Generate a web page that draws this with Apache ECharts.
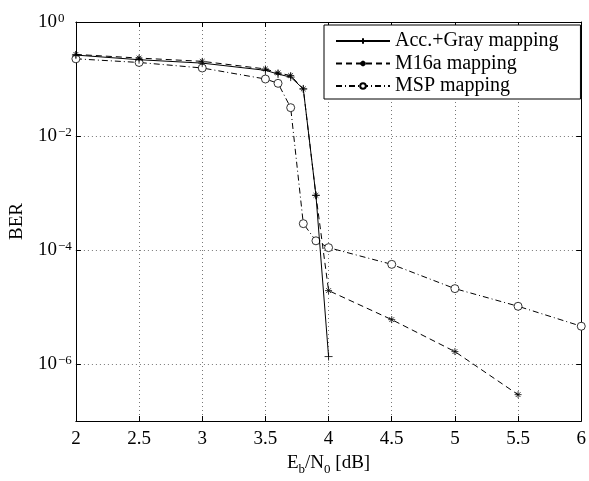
<!DOCTYPE html>
<html>
<head>
<meta charset="utf-8">
<script src="https://cdn.jsdelivr.net/npm/echarts@6/dist/echarts.min.js"></script>
<style>html,body{margin:0;padding:0;background:#fff;}#c{width:589px;height:481px;}</style>
</head>
<body>
<div id="c"></div>
<script>
// Eb/N0 [dB]
const xAcc = [2, 2.5, 3, 3.5, 3.6, 3.7, 3.8, 3.9, 4];
const berAcc = [0.263, 0.218, 0.19, 0.142, 0.122, 0.108, 0.067, 9.1e-4, 1.35e-6];
const xM16a = [2, 2.5, 3, 3.5, 3.6, 3.7, 3.8, 3.9, 4, 4.5, 5, 5.5];
const berM16a = [0.27, 0.233, 0.204, 0.150, 0.128, 0.115, 0.067, 9.1e-4, 1.94e-5, 6.0e-6, 1.65e-6, 2.9e-7];
const xMSP = [2, 2.5, 3, 3.5, 3.6, 3.7, 3.8, 3.9, 4, 4.5, 5, 5.5, 6];
const berMSP = [0.226, 0.195, 0.156, 0.100, 0.084, 0.0314, 2.9e-4, 1.45e-4, 1.1e-4, 5.6e-5, 2.1e-5, 1.03e-5, 4.6e-6];
const seriesNames = ['Acc.+Gray mapping', 'M16a mapping', 'MSP mapping'];
const yExpMin = -7, yExpMax = 0;

const FONT = 'Liberation Serif';
const toPts = (xs, ys) => xs.map((x, i) => [x, Math.log10(ys[i])]);

const plusPath = 'path://M0,5L10,5M5,0L5,10';
const starPath = 'path://M5,0L5,10M0,5L10,5M1.6,1.6L8.4,8.4M8.4,1.6L1.6,8.4';

const gridLine = {show: true, lineStyle: {color: '#777', type: [1, 3], width: 1}};
const axLine = {show: true, onZero: false, lineStyle: {color: '#000', width: 1}};
const tick = {show: true, inside: true, length: 5, lineStyle: {color: '#000', width: 1}};

const chart = echarts.init(document.getElementById('c'), null, {renderer: 'canvas'});
chart.setOption({
  animation: false,
  backgroundColor: '#fff',
  grid: {left: 73, right: 4, top: 22, bottom: 56},
  xAxis: [{
    type: 'value', min: 2, max: 6, interval: 0.5, position: 'bottom',
    axisLine: axLine, axisTick: tick, splitLine: gridLine,
    axisLabel: {color: '#000', fontFamily: FONT, fontSize: 19, margin: 9},
    name: '{a|E}{s|b}{a|/N}{s|0}{a| [dB]}',
    nameLocation: 'middle', nameGap: 33,
    nameTextStyle: {
      color: '#000', fontFamily: FONT,
      rich: {
        a: {fontFamily: FONT, fontSize: 19, color: '#000', lineHeight: 22, verticalAlign: 'top'},
        s: {fontFamily: FONT, fontSize: 13, color: '#000', lineHeight: 13, padding: [9, 0, 0, 0], verticalAlign: 'top'}
      }
    }
  }, {
    type: 'value', min: 2, max: 6, interval: 0.5, position: 'top',
    axisLine: axLine, axisTick: tick, splitLine: {show: false}, axisLabel: {show: false}
  }],
  yAxis: [{
    type: 'value', min: yExpMin, max: yExpMax, minInterval: 2, maxInterval: 2, position: 'left',
    axisLine: axLine, axisTick: tick, splitLine: gridLine,
    axisLabel: {
      color: '#000', fontFamily: FONT, fontSize: 19, margin: 38, align: 'left',
      formatter: v => {
        const e = Math.round(v);
        if (e === yExpMin || e % 2 !== 0) return '';
        return '{b|10}{s|' + (e === 0 ? '0' : '\u2212' + (-e)) + '}';
      },
      rich: {
        b: {fontFamily: FONT, fontSize: 19, color: '#000', lineHeight: 20, verticalAlign: 'bottom', padding: [8, 0, 0, 0]},
        s: {fontFamily: FONT, fontSize: 13, color: '#000', lineHeight: 14, verticalAlign: 'top', padding: [0, 0, 0, 1]}
      }
    },
    name: 'BER', nameLocation: 'middle', nameGap: 42, nameRotate: 90,
    nameTextStyle: {color: '#000', fontFamily: FONT, fontSize: 19}
  }, {
    type: 'value', min: yExpMin, max: yExpMax, minInterval: 2, maxInterval: 2, position: 'right',
    axisLine: axLine, axisTick: tick, splitLine: {show: false}, axisLabel: {show: false}
  }],
  legend: {
    orient: 'vertical', left: 324, top: 25,
    padding: [6, 22, 3, 11], itemWidth: 54, itemHeight: 7, itemGap: 2.5,
    borderColor: '#000', borderWidth: 1, backgroundColor: '#fff',
    textStyle: {fontFamily: FONT, fontSize: 20, color: '#000', lineHeight: 20},
    data: seriesNames
  },
  series: [{
    name: seriesNames[0], type: 'line', data: toPts(xAcc, berAcc),
    symbol: plusPath, symbolSize: 8,
    lineStyle: {color: '#000', width: 1, type: 'solid'},
    itemStyle: {color: '#000', borderColor: '#000', borderWidth: 0.8},
    z: 4
  }, {
    name: seriesNames[1], type: 'line', data: toPts(xM16a, berM16a),
    symbol: starPath, symbolSize: 7,
    lineStyle: {color: '#000', width: 1, type: [6, 4]},
    itemStyle: {color: '#000', borderColor: '#000', borderWidth: 0.8},
    z: 3
  }, {
    name: seriesNames[2], type: 'line', data: toPts(xMSP, berMSP),
    symbol: 'circle', symbolSize: 8, clip: false,
    lineStyle: {color: '#000', width: 1, type: [6, 3, 1, 3]},
    itemStyle: {color: '#fff', borderColor: '#000', borderWidth: 0.8},
    z: 2
  }]
});
</script>
</body>
</html>
